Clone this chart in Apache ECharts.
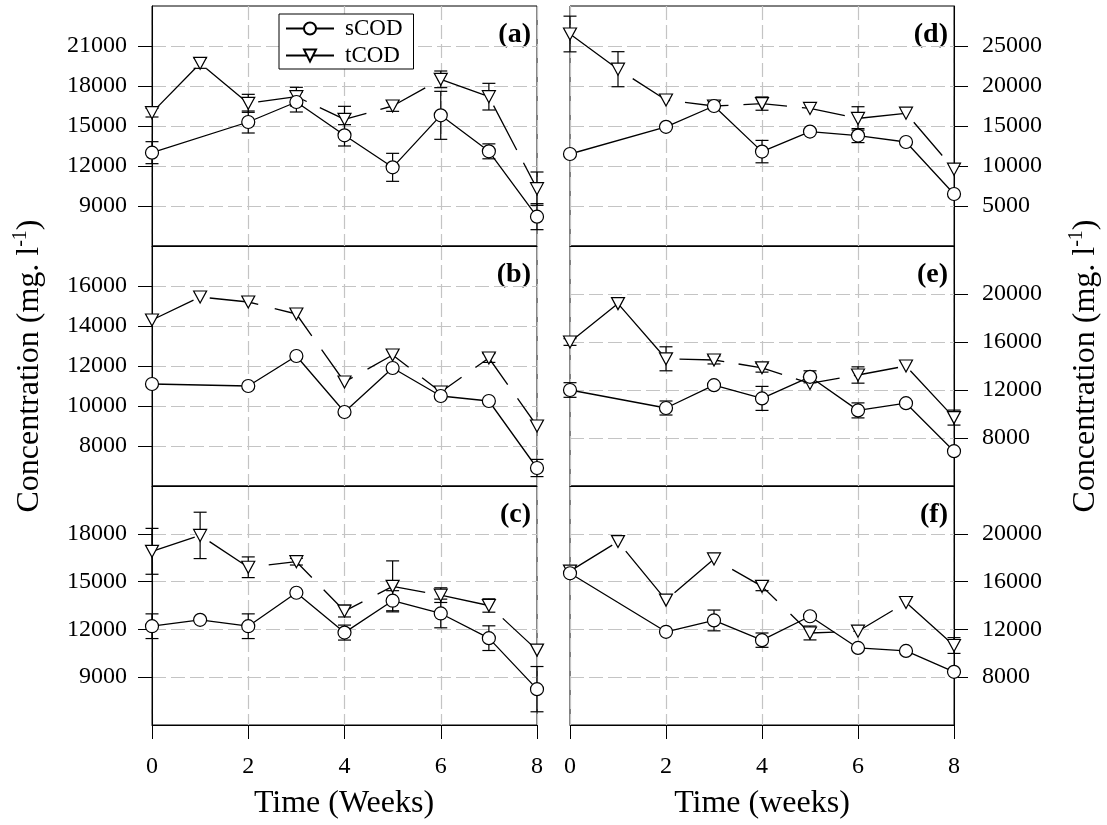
<!DOCTYPE html>
<html>
<head>
<meta charset="utf-8">
<script src="https://cdn.jsdelivr.net/npm/echarts@6/dist/echarts.min.js"></script>
<style>
  html, body { margin: 0; padding: 0; background: #fff; }
  #chart { width: 1107px; height: 825px; }
</style>
</head>
<body>
<div id="chart"></div>
<script>
// Sampling times (weeks)
const weeks = [0, 1, 2, 3, 4, 5, 6, 7, 8];

// Panel (a)
const sCodA    = [13000, null, 15300, 16800, 14300, 11900, 15800, 13100, 8200];
const sCodErrA = [825, 0, 825, 750, 800, 1050, 1800, 560, 975];
const tCodA    = [16000, 19700, 16700, 17200, 15500, 16500, 18500, 17200, 10300];
const tCodErrA = [325, 375, 675, 700, 975, 400, 625, 1000, 1250];

// Panel (b)
const sCodB    = [11100, null, 11000, 12500, 9700, 11900, 10500, 10250, 6900];
const sCodErrB = [0, 0, 0, 0, 0, 0, 0, 0, 430];
const tCodB    = [14300, 15450, 15200, 14600, 11200, 12550, 10700, 12400, 9000];
const tCodErrB = [0, 0, 0, 0, 0, 0, 0, 220, 0];

// Panel (c)
const sCodC    = [12200, 12600, 12200, 14300, 11800, 13800, 13000, 11450, 8250];
const sCodErrC = [775, 0, 775, 0, 470, 630, 900, 775, 1420];
const tCodC    = [16900, 17900, 15900, 16250, 13150, 14700, 14150, 13500, 10700];
const tCodErrC = [1440, 1455, 650, 210, 370, 1600, 460, 420, 0];

// Panel (d)
const sCodD    = [11500, null, 14900, 17500, 11800, 14300, 13800, 13000, 6500];
const sCodErrD = [0, 0, 0, 0, 1400, 0, 875, 0, 0];
const tCodD    = [26500, 22100, 18250, 17500, 17800, 17200, 15950, 16600, 9600];
const tCodErrD = [2230, 2190, 0, 0, 830, 0, 1460, 0, 0];

// Panel (e)
const sCodE    = [12000, null, 10500, 12400, 11300, 13100, 10300, 10900, 6900];
const sCodErrE = [610, 0, 585, 0, 1000, 500, 625, 0, 0];
const tCodE    = [16000, 19200, 14600, 14500, 13850, 12550, 13250, 14000, 9700];
const tCodErrE = [280, 0, 1000, 330, 360, 0, 680, 0, 625];

// Panel (f)
const sCodF    = [16700, null, 11800, 12750, 11100, 13100, 10450, 10200, 8450];
const sCodErrF = [0, 0, 0, 870, 600, 0, 0, 0, 0];
const tCodF    = [16880, 19350, 14450, 17900, 15600, 11700, 11850, 14250, 10650];
const tCodErrF = [0, 0, 0, 0, 360, 580, 0, 0, 660];

// Y axis ranges and labelled ticks
const yRangeA = [6000, 24000], yStepA = 3000, yTicksA = [9000, 12000, 15000, 18000, 21000];
const yRangeB = [6000, 18000], yStepB = 2000, yTicksB = [8000, 10000, 12000, 14000, 16000];
const yRangeC = [6000, 21000], yStepC = 3000, yTicksC = [9000, 12000, 15000, 18000];
const yRangeD = [0, 30000],    yStepD = 5000, yTicksD = [5000, 10000, 15000, 20000, 25000];
const yRangeE = [4000, 24000], yStepE = 4000, yTicksE = [8000, 12000, 16000, 20000];
const yRangeF = [4000, 24000], yStepF = 4000, yTicksF = [8000, 12000, 16000, 20000];

const xTicks = [0, 2, 4, 6, 8];
const seriesNames = ['sCOD', 'tCOD'];
const panelLetters = ['(a)', '(b)', '(c)', '(d)', '(e)', '(f)'];

const FONT = 'Liberation Serif';

// Long-dash stroke of the tCOD line: first dash, then repeating dash/gap
function longDash(first, dash, gap) {
  const out = [first, gap];
  let total = first + gap;
  while (total < 900) { out.push(dash, gap); total += dash + gap; }
  return out;
}
const tDash = [
  longDash(62.5, 50, 14.5),
  longDash(46, 49, 17),
  longDash(45, 50, 17),
  longDash(62, 43.7, 15),
  [133.6, 14.5, 44.9, 14.5, 44.9, 14.5, 44.9, 14.5, 44.9, 14.5, 140, 14.5],
  [49.6, 19, 55.7, 19, 54, 19, 55.1, 19, 51.6, 19, 45, 19, 140, 19]
];

const panels = [
  { s: sCodA, se: sCodErrA, t: tCodA, te: tCodErrA, range: yRangeA, step: yStepA, ticks: yTicksA, col: 0, row: 0 },
  { s: sCodB, se: sCodErrB, t: tCodB, te: tCodErrB, range: yRangeB, step: yStepB, ticks: yTicksB, col: 0, row: 1 },
  { s: sCodC, se: sCodErrC, t: tCodC, te: tCodErrC, range: yRangeC, step: yStepC, ticks: yTicksC, col: 0, row: 2 },
  { s: sCodD, se: sCodErrD, t: tCodD, te: tCodErrD, range: yRangeD, step: yStepD, ticks: yTicksD, col: 1, row: 0 },
  { s: sCodE, se: sCodErrE, t: tCodE, te: tCodErrE, range: yRangeE, step: yStepE, ticks: yTicksE, col: 1, row: 1 },
  { s: sCodF, se: sCodErrF, t: tCodF, te: tCodErrF, range: yRangeF, step: yStepF, ticks: yTicksF, col: 1, row: 2 }
];

// Layout of the 3x2 panel matrix
const colLeft = [152, 570], colWidth = [385, 384];
const rowTop = [6, 246, 486], rowHeight = [240, 240, 239];

const gridLine = { type: [14, 5], color: '#c4c4c4', width: 1.2 };
const axisColor = '#000';

function pairs(vals) {
  const out = [];
  vals.forEach((v, i) => { if (v !== null) out.push([weeks[i], v]); });
  return out;
}
function errTriples(vals, errs) {
  const out = [];
  vals.forEach((v, i) => { if (v !== null && errs[i] > 0) out.push([weeks[i], v, errs[i]]); });
  return out;
}

// Vertical error bar with caps
function renderErrorBar(params, api) {
  const x = api.value(0), v = api.value(1), e = api.value(2);
  const hi = api.coord([x, v + e]);
  const lo = api.coord([x, v - e]);
  const w = 6.5;
  const st = { stroke: '#000', lineWidth: 1.2 };
  return {
    type: 'group',
    children: [
      { type: 'line', shape: { x1: hi[0], y1: hi[1], x2: lo[0], y2: lo[1] }, style: st },
      { type: 'line', shape: { x1: hi[0] - w, y1: hi[1], x2: hi[0] + w, y2: hi[1] }, style: st },
      { type: 'line', shape: { x1: lo[0] - w, y1: lo[1], x2: lo[0] + w, y2: lo[1] }, style: st }
    ]
  };
}

const grids = [], xAxes = [], yAxes = [], series = [], graphics = [];

panels.forEach((p, i) => {
  const bottom = p.row === 2;
  const right = p.col === 1;
  grids.push({
    left: colLeft[p.col], top: rowTop[p.row],
    width: colWidth[p.col], height: rowHeight[p.row],
    show: true, borderColor: '#000', borderWidth: 1,
    containLabel: false, outerBoundsMode: 'none'
  });
  xAxes.push({
    type: 'value', gridIndex: i, min: 0, max: 8, interval: 2,
    axisLine: { show: true, onZero: false, lineStyle: { color: axisColor, width: 1 } },
    axisTick: { show: bottom, length: 14, customValues: xTicks, lineStyle: { color: axisColor } },
    axisLabel: {
      show: bottom, margin: 30, customValues: xTicks,
      fontFamily: FONT, fontSize: 24, color: '#000'
    },
    splitLine: { show: true, lineStyle: gridLine }
  });
  yAxes.push({
    type: 'value', gridIndex: i, position: right ? 'right' : 'left',
    min: p.range[0], max: p.range[1], interval: p.step,
    axisLine: { show: true, onZero: false, lineStyle: { color: axisColor, width: 1 } },
    axisTick: { show: true, length: 14, customValues: p.ticks, lineStyle: { color: axisColor } },
    axisLabel: {
      show: true, customValues: p.ticks, margin: right ? 28 : 25,
      fontFamily: FONT, fontSize: 24, color: '#000',
      formatter: v => String(v)
    },
    splitLine: { show: true, lineStyle: gridLine }
  });

  series.push({
    type: 'custom', name: 'sCOD err', xAxisIndex: i, yAxisIndex: i, z: 1,
    renderItem: renderErrorBar, encode: { x: 0, y: 1 },
    data: errTriples(p.s, p.se), silent: true
  });
  series.push({
    type: 'custom', name: 'tCOD err', xAxisIndex: i, yAxisIndex: i, z: 1,
    renderItem: renderErrorBar, encode: { x: 0, y: 1 },
    data: errTriples(p.t, p.te), silent: true
  });
  series.push({
    type: 'line', name: seriesNames[0], xAxisIndex: i, yAxisIndex: i, z: 3,
    data: pairs(p.s), symbol: 'circle', symbolSize: 13, showAllSymbol: true,
    itemStyle: { color: '#fff', borderColor: '#000', borderWidth: 1.2 },
    lineStyle: { color: '#000', width: 1.3 },
    emphasis: { disabled: true }, silent: true
  });
  series.push({
    type: 'line', name: seriesNames[1], xAxisIndex: i, yAxisIndex: i, z: 2,
    data: pairs(p.t), symbol: 'path://M0,0L14,0L7,12Z', symbolSize: [13, 12], showAllSymbol: true,
    itemStyle: { color: '#fff', borderColor: '#000', borderWidth: 1.2 },
    lineStyle: { color: '#000', width: 1.3, type: tDash[i], dashOffset: 0 },
    emphasis: { disabled: true }, silent: true
  });

  // Panel letter in the upper right corner
  graphics.push({
    type: 'text',
    x: colLeft[p.col] + colWidth[p.col] - 6,
    y: rowTop[p.row] + 29,
    style: {
      text: panelLetters[i], align: 'right', verticalAlign: 'middle',
      font: 'bold 28px "' + FONT + '"', fill: '#000'
    }
  });
});

// Axis titles
const yTitleRich = {
  sup: { fontFamily: FONT, fontSize: 20, verticalAlign: 'top', lineHeight: 20, fill: '#000' }
};
[30, 1086].forEach(x => {
  graphics.push({
    type: 'text', x: x, y: 366, rotation: Math.PI / 2,
    style: {
      text: 'Concentration (mg. l{sup|-1})', align: 'center', verticalAlign: 'middle',
      fontFamily: FONT, fontSize: 32, lineHeight: 38, fill: '#000', rich: yTitleRich
    }
  });
});
graphics.push({
  type: 'text', x: 344, y: 804,
  style: { text: 'Time (Weeks)', align: 'center', verticalAlign: 'middle', fontFamily: FONT, fontSize: 32, fill: '#000' }
});
graphics.push({
  type: 'text', x: 762, y: 804,
  style: { text: 'Time (weeks)', align: 'center', verticalAlign: 'middle', fontFamily: FONT, fontSize: 32, fill: '#000' }
});

const chart = echarts.init(document.getElementById('chart'), null, { renderer: 'canvas' });
chart.setOption({
  animation: false,
  backgroundColor: '#fff',
  grid: grids,
  xAxis: xAxes,
  yAxis: yAxes,
  legend: {
    data: seriesNames, orient: 'vertical', left: 279, top: 14,
    borderColor: '#000', borderWidth: 1, backgroundColor: '#fff',
    padding: [3, 11, 2, 6], itemWidth: 48, itemHeight: 15, itemGap: 4,
    selectedMode: false,
    textStyle: { fontFamily: FONT, fontSize: 23, color: '#000', padding: [0, 0, 0, 6], lineHeight: 23 }
  },
  series: series,
  graphic: graphics
});
</script>
</body>
</html>
